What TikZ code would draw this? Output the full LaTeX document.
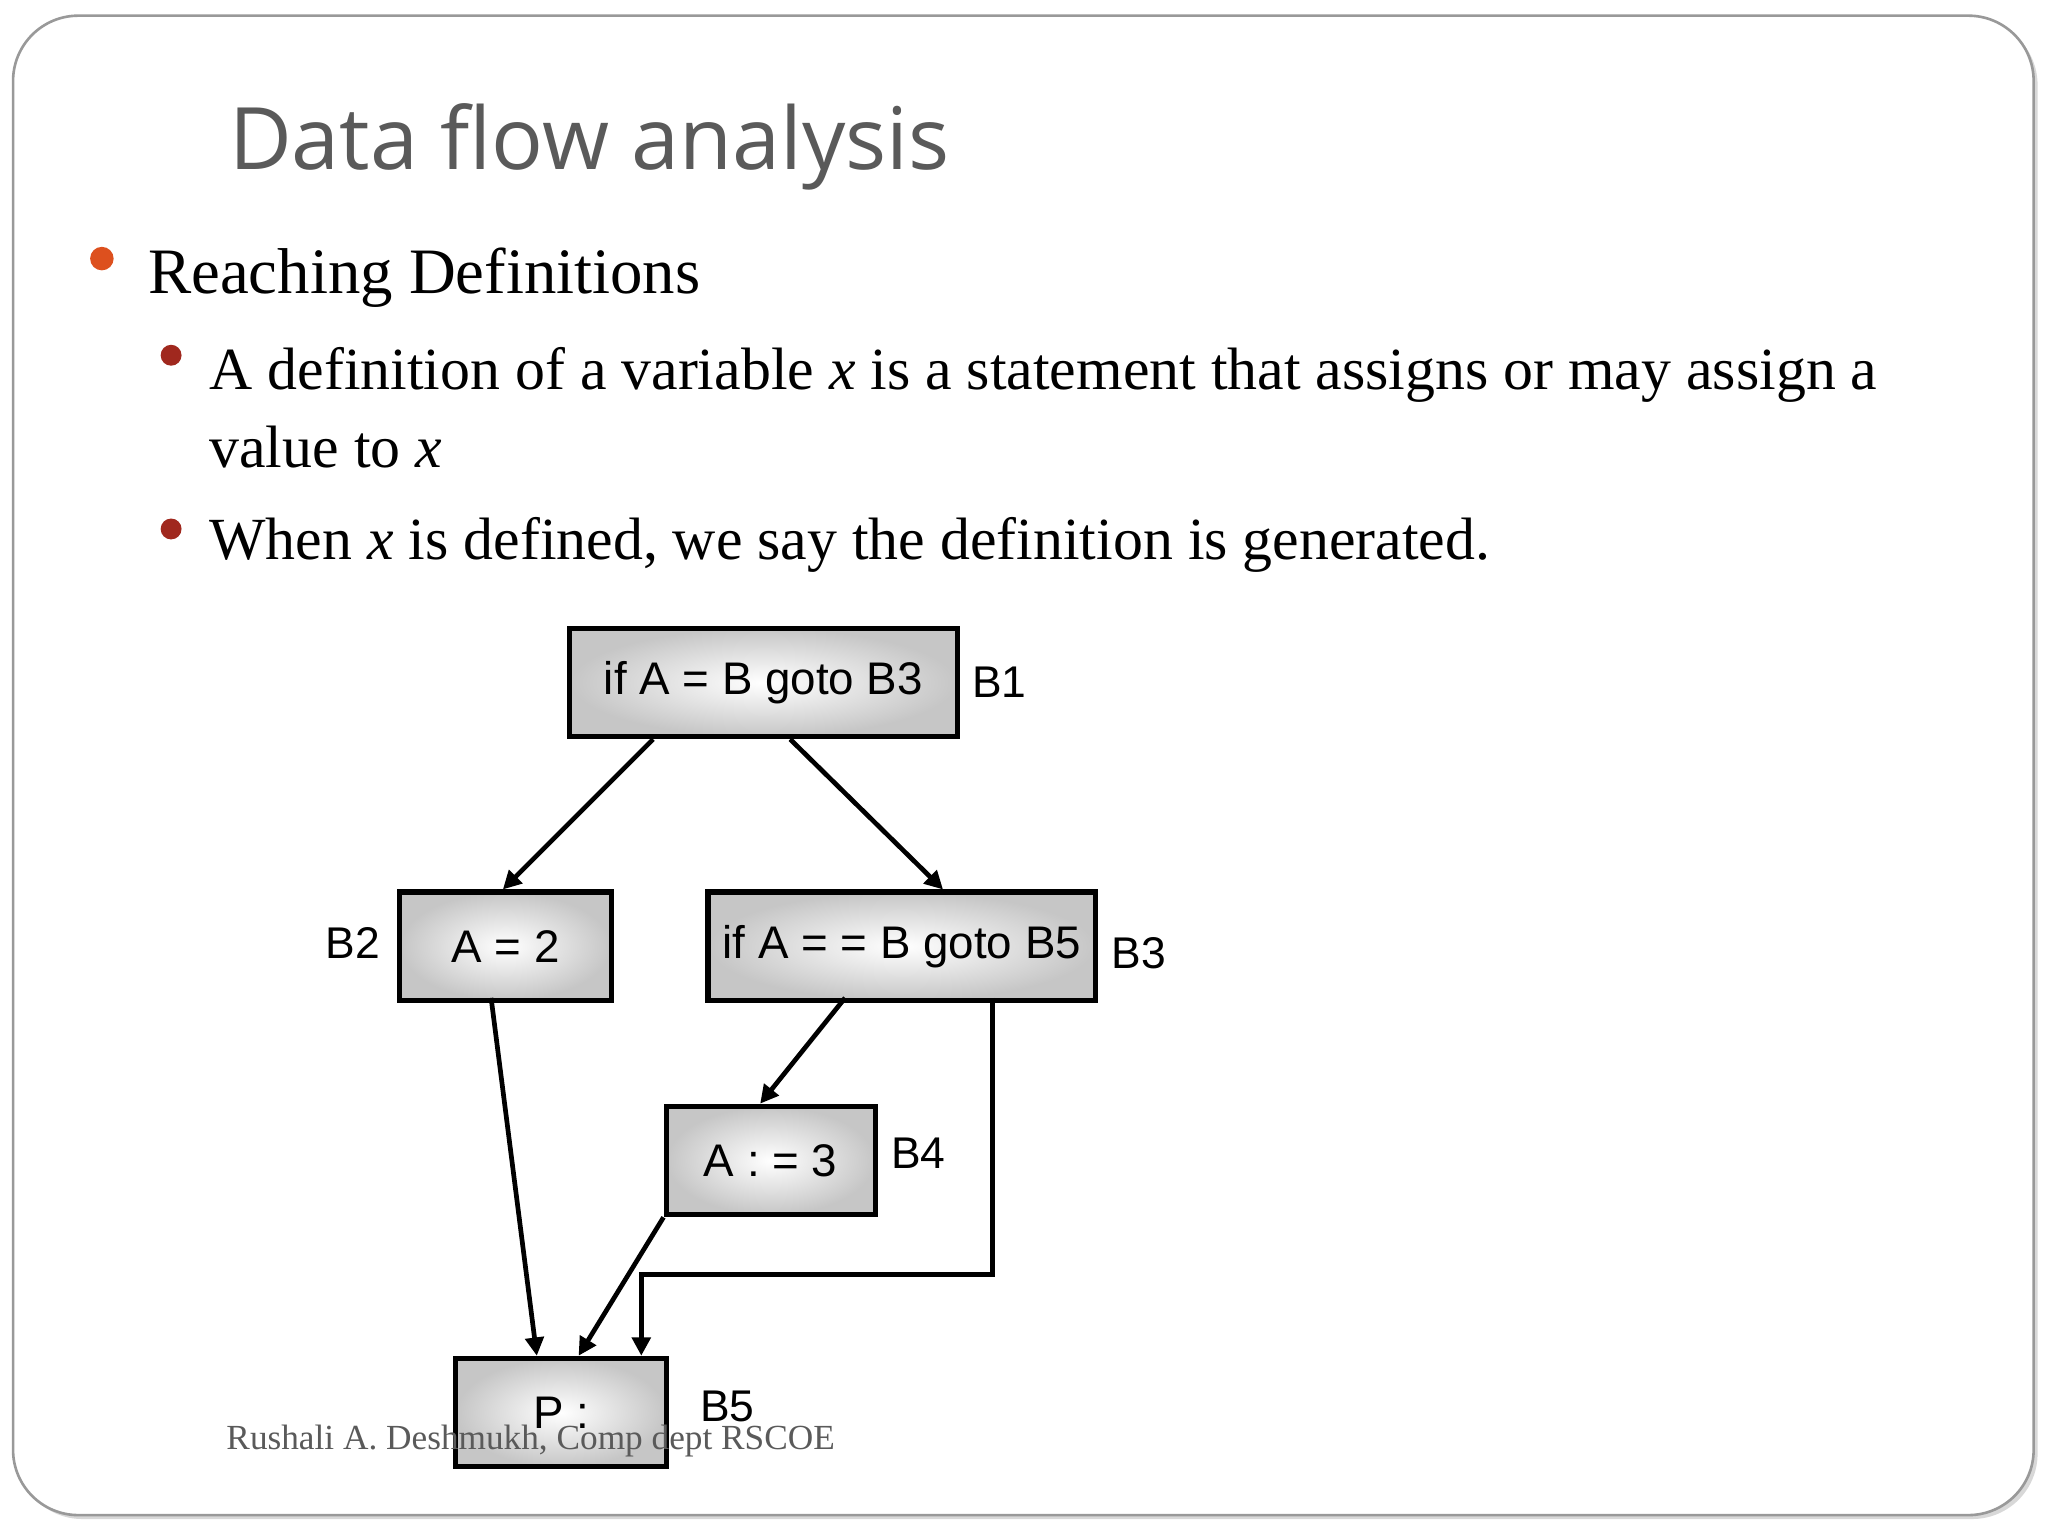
\documentclass[tikz,border=0pt]{standalone}
\usepackage{fontspec}
\setmainfont{Liberation Serif}
\setsansfont{Liberation Sans}
\newfontfamily\titlefont{Open Sans}
\usetikzlibrary{arrows.meta,shadows}
\definecolor{titlegray}{RGB}{90,90,90}
\definecolor{orangeb}{RGB}{221,80,30}
\definecolor{redb}{RGB}{160,40,30}
\tikzset{
 blk/.style={draw=black,line width=2pt,inner color=white,outer color=gray!45,minimum height=41.5pt,anchor=north west,font=\sffamily\fontsize{17.5}{17.5}\selectfont},
 lbl/.style={font=\sffamily\fontsize{17}{17}\selectfont},
 arr/.style={line width=1.8pt,-{Triangle[length=7pt,width=7pt]}}
}
\begin{document}
\begin{tikzpicture}[x=0.5pt,y=-0.5pt]
\useasboundingbox (0,0) rectangle (1568,1176);
\fill[white] (0,0) rectangle (1568,1176);
\draw[gray!80,line width=1pt,fill=white,rounded corners=25pt,drop shadow={shadow xshift=1.5pt,shadow yshift=-1.5pt,fill=gray!60}] (10,12) rectangle (1557,1160);
\node[anchor=base west,inner sep=0,text=titlegray,font=\titlefont\fontsize{33}{33}\selectfont] (title) at (175,130) {Data flow analysis};
\fill[orangeb] (78,198) circle (4.5pt);
\node[anchor=base west,inner sep=0,font=\fontsize{24.8}{24.8}\selectfont] (t1) at (113,225) {Reaching Definitions};
\fill[redb] (131,272) circle (4pt);
\node[anchor=base west,inner sep=0,font=\fontsize{22.9}{22.9}\selectfont] (t2) at (160,298) {A definition of a variable \textit{x} is a statement that assigns or may assign a};
\node[anchor=base west,inner sep=0,font=\fontsize{22.9}{22.9}\selectfont] (t3) at (160,358) {value to \textit{x}};
\fill[redb] (131,405) circle (4pt);
\node[anchor=base west,inner sep=0,font=\fontsize{22.9}{22.9}\selectfont] (t4) at (160,428) {When \textit{x} is defined, we say the definition is generated.};
\node[blk,minimum width=148.5pt] (b1) at (434,479) {if A = B goto B3};
\node[blk,minimum width=81pt] (b2) at (304,681) {A = 2};
\node[blk,minimum width=148.5pt] (b3) at (540,681) {if A = = B goto B5};
\node[blk,minimum width=80pt] (b4) at (508,845) {A : = 3};
\node[blk,minimum width=80.5pt] (b5) at (347,1038) {P :};
\node[lbl] (l1) at (765,522) {B1};
\node[lbl] (l2) at (270,722) {B2};
\node[lbl] (l3) at (872,730) {B3};
\node[lbl] (l4) at (703,883) {B4};
\node[lbl] (l5) at (557,1077) {B5};
\draw[arr] (b1.south west)++(66,0) -- (b2.north west -| 385,681);
\draw[arr] (b1.south west)++(171,0) -- (722,681);
\draw[arr] (376,764) -- (b5.north west -| 411,1038);
\draw[arr] (647,764) -- (582,845);
\draw[arr] (b4.south west) -- (443,1038);
\draw[arr] (760,764) -- (760,976) -- (491,976) -- (491,1038);
\node[anchor=base west,inner sep=0,text=titlegray,font=\fontsize{13.5}{13.5}\selectfont] (foot) at (173,1110) {Rushali A. Deshmukh, Comp dept RSCOE};
\end{tikzpicture}
\end{document}
